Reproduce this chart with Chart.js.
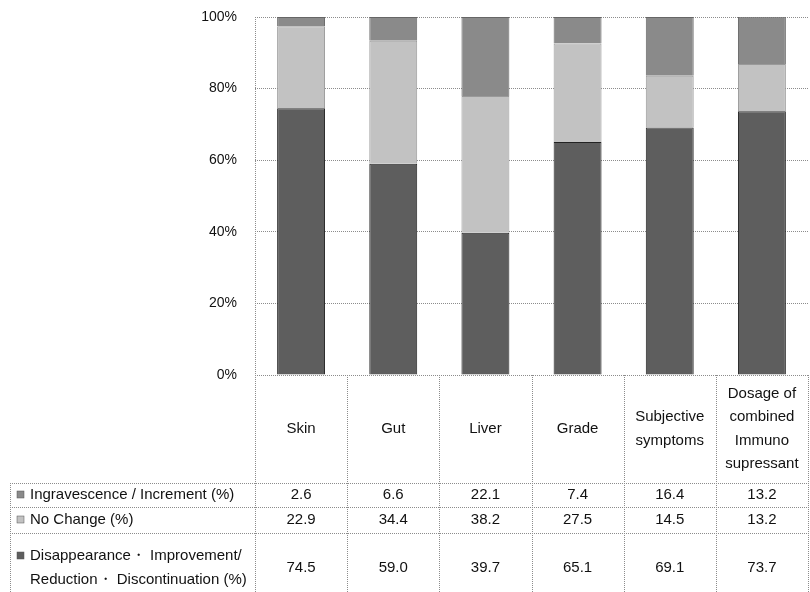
<!DOCTYPE html>
<html>
<head>
<meta charset="utf-8">
<script src="https://cdn.jsdelivr.net/npm/chart.js@4.4.1/dist/chart.umd.min.js"></script>
<style>
  body { margin: 0; background: #fff; }
  #wrap { width: 810px; height: 592px; }
</style>
</head>
<body>
<div id="wrap"><canvas id="myChart" width="810" height="592"></canvas></div>
<script>
//CHART DATA
////////////////////////////////////////////////////////////////////
var categories = [["Skin"], ["Gut"], ["Liver"], ["Grade"], ["Subjective", "symptoms"], ["Dosage of", "combined", "Immuno", "supressant"]];
var ingravescence = [2.6, 6.6, 22.1, 7.4, 16.4, 13.2];
var noChange = [22.9, 34.4, 38.2, 27.5, 14.5, 13.2];
var disappearance = [74.5, 59.0, 39.7, 65.1, 69.1, 73.7];
var yTicks = [0, 20, 40, 60, 80, 100];

var seriesLabels = [
    ["Ingravescence / Increment (%)"],
    ["No Change (%)"],
    ["Disappearance\u30FB Improvement/", "Reduction\u30FB Discontinuation (%)"]
];

var darkGray = "#5e5e5e";
var lightGray = "#c2c2c2";
var midGray = "#8a8a8a";
var lineGray = "#8c8c8c";
var fontName = "'Liberation Sans', Arial, sans-serif";

//dotted line helper
function dotted(ctx, x1, y1, x2, y2) {
    ctx.save();
    ctx.strokeStyle = lineGray;
    ctx.lineWidth = 1;
    ctx.setLineDash([1, 1]);
    ctx.beginPath();
    ctx.moveTo(x1, y1);
    ctx.lineTo(x2, y2);
    ctx.stroke();
    ctx.restore();
}

//draws the data table under the plot
var tablePlugin = {
    id: "dataTable",
    afterDraw: function (chart) {
        var ctx = chart.ctx;
        var area = chart.chartArea;
        var xs = chart.scales.x;
        var colW = (area.right - area.left) / categories.length;
        var tableLeft = 10;
        var rowLines = [483, 507, 533];
        var bottom = 592;

        //left axis line runs through the table
        dotted(ctx, area.left + 0.5, area.top, area.left + 0.5, bottom);
        for (var i = 1; i <= categories.length; i++) {
            var bx = Math.round(area.left + i * colW) + 0.5;
            dotted(ctx, bx, area.bottom, bx, bottom);
        }
        dotted(ctx, tableLeft + 0.5, rowLines[0], tableLeft + 0.5, bottom);
        for (var r = 0; r < rowLines.length; r++) {
            dotted(ctx, tableLeft, rowLines[r] + 0.5, area.right, rowLines[r] + 0.5);
        }

        ctx.save();
        ctx.fillStyle = "#111";
        ctx.font = "15px " + fontName;
        ctx.textAlign = "center";
        ctx.textBaseline = "middle";

        //category header
        var headerMid = (area.bottom + rowLines[0]) / 2;
        categories.forEach(function (lines, i) {
            var cx = xs.getPixelForValue(i);
            var start = headerMid - (lines.length - 1) * 23.5 / 2;
            lines.forEach(function (t, k) {
                ctx.fillText(t, cx, start + k * 23.5);
            });
        });

        //value rows
        var rowsData = [ingravescence, noChange, disappearance];
        var rowMids = [495, 520, 568];
        rowsData.forEach(function (vals, r) {
            vals.forEach(function (v, i) {
                ctx.fillText(v.toFixed(1), xs.getPixelForValue(i), rowMids[r]);
            });
        });

        //row labels with legend squares
        var swatches = [midGray, lightGray, darkGray];
        var labelY = [[495], [520], [556, 580]];
        ctx.textAlign = "left";
        seriesLabels.forEach(function (lines, r) {
            ctx.fillStyle = swatches[r];
            ctx.fillRect(17, labelY[r][0] - 4, 7, 7);
            ctx.strokeStyle = "#555";
            ctx.lineWidth = 0.5;
            ctx.strokeRect(17, labelY[r][0] - 4, 7, 7);
            ctx.fillStyle = "#111";
            lines.forEach(function (t, k) {
                ctx.fillText(t, 30, labelY[r][k]);
            });
        });
        ctx.restore();
    }
};

function displayChart() {
    new Chart(document.getElementById("myChart"), {
        type: "bar",
        data: {
            labels: categories.map(function (c) { return c.join(" "); }),
            datasets: [
                {
                    label: seriesLabels[2].join(" "),
                    data: disappearance,
                    backgroundColor: darkGray,
                    borderColor: "#222",
                    borderWidth: 1
                },
                {
                    label: seriesLabels[1].join(" "),
                    data: noChange,
                    backgroundColor: lightGray,
                    borderColor: "#999",
                    borderWidth: 1
                },
                {
                    label: seriesLabels[0].join(" "),
                    data: ingravescence,
                    backgroundColor: midGray,
                    borderColor: "#666",
                    borderWidth: 1
                }
            ]
        },
        options: {
            responsive: false,
            animation: false,
            layout: {
                padding: { top: 17, right: 2, bottom: 217, left: 0 }
            },
            plugins: {
                legend: { display: false },
                tooltip: { enabled: false }
            },
            datasets: {
                bar: { barPercentage: 0.52, categoryPercentage: 1 }
            },
            scales: {
                x: {
                    stacked: true,
                    display: false
                },
                y: {
                    stacked: true,
                    min: 0,
                    max: 100,
                    afterFit: function (scale) {
                        scale.width = 255;
                        scale.paddingTop = 0;
                        scale.paddingBottom = 0;
                    },
                    afterBuildTicks: function (scale) {
                        scale.ticks = yTicks.map(function (v) { return { value: v }; });
                    },
                    ticks: {
                        padding: 18,
                        color: "#111",
                        font: { family: fontName, size: 14 },
                        callback: function (v) { return v + "%"; }
                    },
                    grid: {
                        color: lineGray,
                        drawTicks: false
                    },
                    border: {
                        display: false,
                        dash: [1, 1]
                    }
                }
            }
        },
        plugins: [tablePlugin]
    });
}

displayChart();
</script>
</body>
</html>
